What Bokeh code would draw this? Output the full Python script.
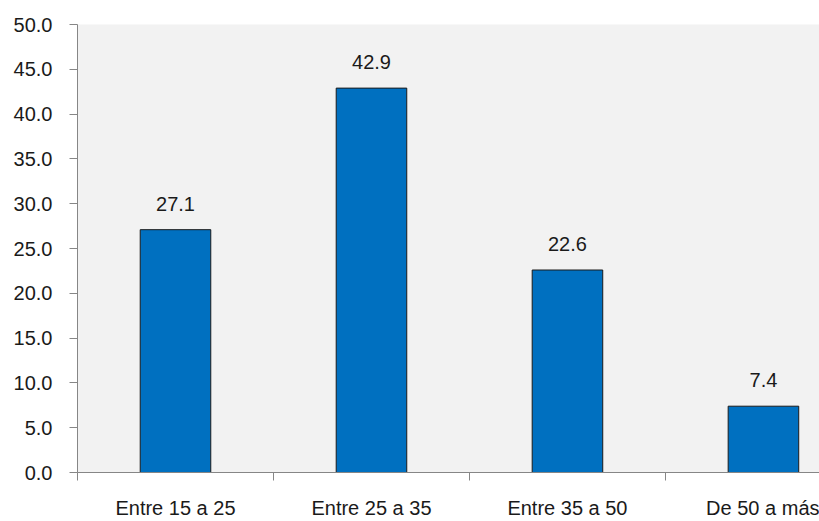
from bokeh.plotting import figure
from bokeh.models import Range1d, FixedTicker, ColumnDataSource, LinearAxis, NumeralTickFormatter
from bokeh.core.properties import value
from bokeh.embed import file_html
from bokeh.resources import INLINE

categories = ["Entre 15 a 25", "Entre 25 a 35", "Entre 35 a 50", "De 50 a más"]
percentages = [27.1, 42.9, 22.6, 7.4]
y_ticks = [0, 5, 10, 15, 20, 25, 30, 35, 40, 45, 50]

centers = [i + 0.5 for i in range(len(categories))]
labels = [f"{v:.1f}" for v in percentages]
source = ColumnDataSource(dict(x=centers, top=percentages, label=labels))

FONT = "Liberation Sans"

p = figure(
    width=819, height=521,
    x_range=Range1d(0, 3.786), y_range=Range1d(0, 50),
    output_backend="svg", toolbar_location=None,
    x_axis_location=None, y_axis_location=None,
    min_border_left=77, min_border_top=24, min_border_bottom=49, min_border_right=0,
)
p.background_fill_color = "#f2f2f2"
p.border_fill_color = "#ffffff"
p.outline_line_color = None
p.xgrid.visible = False
p.ygrid.visible = False

p.vbar(x="x", top="top", width=0.36, bottom=0, source=source,
       fill_color="#0070c0", line_color="#1a1a1a", line_width=1)

p.text(x="x", y="top", text="label", source=source,
       text_font=value(FONT), text_font_size="20px", text_color="#1a1a1a",
       text_align="center", text_baseline="alphabetic", y_offset=-26)

# vertical axis
yaxis = LinearAxis(ticker=FixedTicker(ticks=y_ticks))
yaxis.formatter = NumeralTickFormatter(format="0.0")
yaxis.axis_line_color = "#868686"
yaxis.major_tick_line_color = "#868686"
yaxis.major_tick_out = 8
yaxis.major_tick_in = 0
yaxis.minor_tick_line_color = None
yaxis.major_label_standoff = 17
yaxis.major_label_text_font = FONT
yaxis.major_label_text_font_size = "20px"
yaxis.major_label_text_color = "#1a1a1a"
p.add_layout(yaxis, "left")

# horizontal axis: labels under the bars, tick marks between categories
xaxis = LinearAxis(ticker=FixedTicker(ticks=centers, minor_ticks=list(range(len(categories)))))
xaxis.major_label_overrides = {c: name for c, name in zip(centers, categories)}
xaxis.axis_line_color = "#868686"
xaxis.major_tick_line_color = None
xaxis.minor_tick_line_color = "#868686"
xaxis.minor_tick_out = 8
xaxis.minor_tick_in = 0
xaxis.major_label_standoff = 16
xaxis.major_label_text_font = FONT
xaxis.major_label_text_font_size = "20px"
xaxis.major_label_text_color = "#1a1a1a"
p.add_layout(xaxis, "below")

open("out.html", "w").write(file_html(p, INLINE))
